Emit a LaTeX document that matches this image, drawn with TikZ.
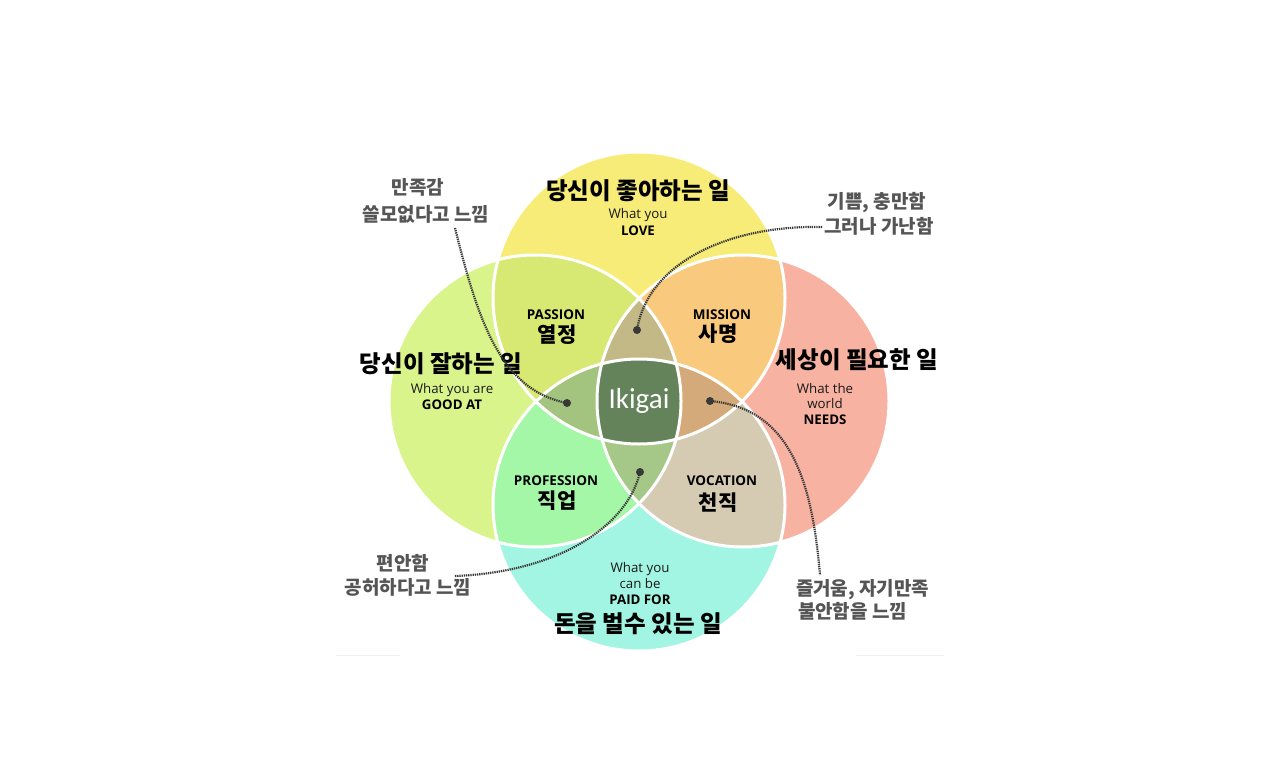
\documentclass[tikz,border=0pt]{standalone}
\usepackage{fontspec}
\setmainfont{Open Sans}
\newfontfamily\kr{Noto Sans CJK KR}
\newfontfamily\ikfont{Carlito}
\definecolor{cT}{HTML}{F8EC78}
\definecolor{cL}{HTML}{DAF48C}
\definecolor{cR}{HTML}{F8B2A2}
\definecolor{cB}{HTML}{A2F5E2}
\definecolor{cTL}{HTML}{D7E873}
\definecolor{cTR}{HTML}{F9C97D}
\definecolor{cBL}{HTML}{A5F7A8}
\definecolor{cBR}{HTML}{D5CBB2}
\definecolor{cTLR}{HTML}{C3B987}
\definecolor{cTLB}{HTML}{A2C47E}
\definecolor{cTRB}{HTML}{D4AA7A}
\definecolor{cBLR}{HTML}{A5C888}
\definecolor{cQ}{HTML}{65835A}
\definecolor{notec}{HTML}{555555}
\definecolor{connc}{HTML}{383838}
\begin{document}
\begin{tikzpicture}[x=1pt,y=-1pt,
  every node/.style={inner sep=0pt,outer sep=0pt},
  krtitle/.style={font=\kr\bfseries\fontsize{23.5}{26}\selectfont,text=black},
  entext/.style={font=\fontsize{13.3}{15}\selectfont,text=black!90},
  enbold/.style={font=\bfseries\fontsize{13.3}{15}\selectfont,text=black},
  seglab/.style={font=\bfseries\fontsize{13.5}{15}\selectfont,text=black},
  segkr/.style={font=\kr\bfseries\fontsize{21}{23}\selectfont,text=black},
  note/.style={font=\kr\bfseries\fontsize{19}{21}\selectfont,text=notec},
  conn/.style={draw=connc,line width=2.2pt,dash pattern=on 1.3pt off 0.9pt},
  dotend/.style={fill=connc},
  ring/.style={draw=white,line width=3pt},
  faint/.style={draw=black!6,line width=0.8pt}
]
\path[use as bounding box,fill=white] (0,0) rectangle (1280,784);
\coordinate (T) at (639,298);
\coordinate (B) at (639,505);
\coordinate (L) at (535,401);
\coordinate (R) at (743,401);
\def\rad{146pt}
% single circles
\fill[cT] (T) circle[radius=\rad];
\fill[cL] (L) circle[radius=\rad];
\fill[cR] (R) circle[radius=\rad];
\fill[cB] (B) circle[radius=\rad];
% pairs
\begin{scope}\clip (T) circle[radius=\rad]; \fill[cTL] (L) circle[radius=\rad];\end{scope}
\begin{scope}\clip (T) circle[radius=\rad]; \fill[cTR] (R) circle[radius=\rad];\end{scope}
\begin{scope}\clip (B) circle[radius=\rad]; \fill[cBL] (L) circle[radius=\rad];\end{scope}
\begin{scope}\clip (B) circle[radius=\rad]; \fill[cBR] (R) circle[radius=\rad];\end{scope}
% triples
\begin{scope}\clip (T) circle[radius=\rad]; \clip (L) circle[radius=\rad]; \fill[cTLR] (R) circle[radius=\rad];\end{scope}
\begin{scope}\clip (T) circle[radius=\rad]; \clip (B) circle[radius=\rad]; \fill[cTLB] (L) circle[radius=\rad];\end{scope}
\begin{scope}\clip (T) circle[radius=\rad]; \clip (B) circle[radius=\rad]; \fill[cTRB] (R) circle[radius=\rad];\end{scope}
\begin{scope}\clip (B) circle[radius=\rad]; \clip (L) circle[radius=\rad]; \fill[cBLR] (R) circle[radius=\rad];\end{scope}
% quadruple
\begin{scope}\clip (T) circle[radius=\rad]; \clip (B) circle[radius=\rad]; \clip (L) circle[radius=\rad]; \fill[cQ] (R) circle[radius=\rad];\end{scope}
% white rings
\draw[ring] (T) circle[radius=\rad];
\draw[ring] (L) circle[radius=\rad];
\draw[ring] (R) circle[radius=\rad];
\draw[ring] (B) circle[radius=\rad];

% faint frame remnants
\coordinate (f1) at (336,655); \coordinate (f2) at (400,655);
\coordinate (f3) at (856,655); \coordinate (f4) at (944,655);
\draw[faint] (f1) -- (f2);
\draw[faint] (f3) -- (f4);

% circle labels
\node[krtitle] (love) at (638,191) {당신이 좋아하는 일};
\node[entext] (love1) at (638,215) {What you};
\node[enbold] (love2) at (638,231) {LOVE};

\node[krtitle] (good) at (441,364) {당신이 잘하는 일};
\node[entext] (good1) at (452,390) {What you are};
\node[enbold] (good2) at (452,405) {GOOD AT};

\node[krtitle] (need) at (857,360) {세상이 필요한 일};
\node[entext] (need1) at (825,389) {What the};
\node[entext] (need2) at (825,404) {world};
\node[enbold] (need3) at (825,420) {NEEDS};

\node[entext] (paid1) at (640,569) {What you};
\node[entext] (paid2) at (640,584) {can be};
\node[enbold] (paid3) at (640,600) {PAID FOR};
\node[krtitle] (paid) at (638,624) {돈을 벌수 있는 일};

% segment labels
\node[seglab] (passion) at (556,315) {PASSION};
\node[segkr] (passionk) at (557,335) {열정};
\node[seglab] (mission) at (722,315) {MISSION};
\node[segkr] (missionk) at (718,334) {사명};
\node[seglab] (profession) at (556,481) {PROFESSION};
\node[segkr] (professionk) at (557,501) {직업};
\node[seglab] (vocation) at (722,481) {VOCATION};
\node[segkr] (vocationk) at (718,503) {천직};

\node[font=\ikfont\fontsize{29}{31}\selectfont,text=white] (ikigai) at (639,401) {Ikigai};

% notes
\node[note] (n1a) at (418,187) {만족감};
\node[note] (n1b) at (426,214) {쓸모없다고 느낌};
\node[note] (n2a) at (877,203) {기쁨, 충만함};
\node[note] (n2b) at (879,226) {그러나 가난함};
\node[note] (n3a) at (403,563) {편안함};
\node[note] (n3b) at (408,587) {공허하다고 느낌};
\node[note,anchor=west] (n4a) at (796,590) {즐거움, 자기만족};
\node[note,anchor=west] (n4b) at (798,611) {불안함을 느낌};

% connector ends
\coordinate (d1) at (567,403);
\coordinate (d2) at (637,330);
\coordinate (d3) at (640,472);
\coordinate (d4) at (710,401);
\coordinate (s1) at (455,228);
\coordinate (s2) at (822,227);
\coordinate (s3) at (455,576);
\coordinate (s4) at (820,575);

\draw[conn] (s1) .. controls (478,320) and (500,390) .. (d1);
\draw[conn] (s2) .. controls (730,225) and (648,262) .. (d2);
\draw[conn] (s3) .. controls (560,572) and (628,525) .. (d3);
\draw[conn] (d4) .. controls (790,408) and (812,480) .. (s4);

\fill[dotend] (d1) circle[radius=4pt];
\fill[dotend] (d2) circle[radius=4pt];
\fill[dotend] (d3) circle[radius=4pt];
\fill[dotend] (d4) circle[radius=4pt];
\end{tikzpicture}
\end{document}
